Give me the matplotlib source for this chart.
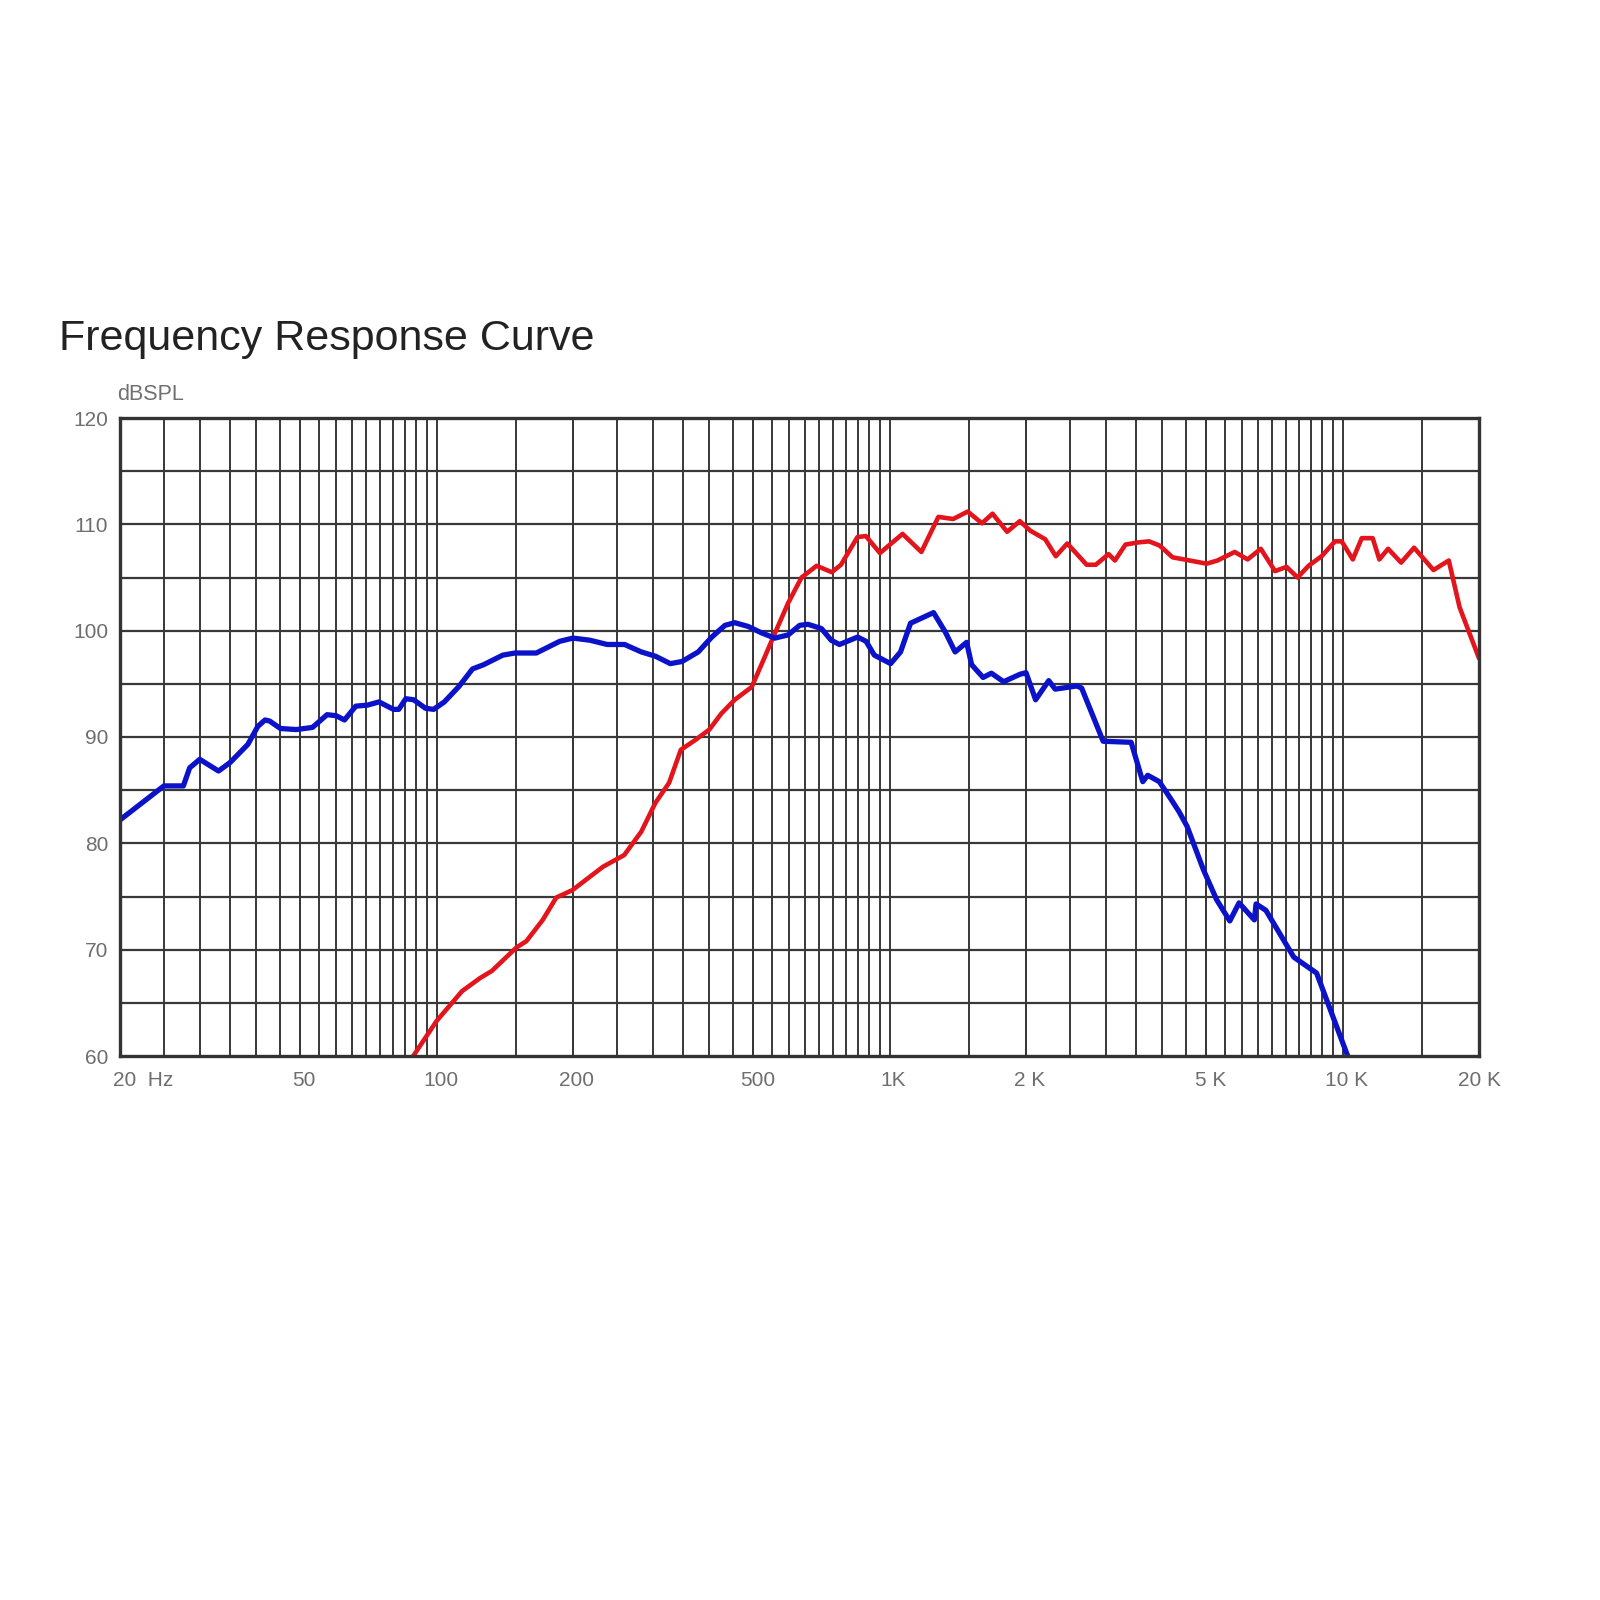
import numpy as np
import matplotlib
matplotlib.use("Agg")
import matplotlib.pyplot as plt
import matplotlib.transforms as mtransforms
from matplotlib import font_manager

# ---------------- data ----------------
blue_freq = [20, 25, 27.6, 28.5, 30, 33, 35, 38.3, 40.3, 41.8, 42.8, 45.2, 49, 53.2, 57.3, 60,
             62.6, 66.3, 70.4, 74.6, 80.3, 82.5, 85.5, 89, 94.5, 98.5, 104, 112, 120, 127, 140,
             149, 166, 187, 200, 218, 238, 260, 283, 304, 328, 348, 378, 405, 433, 455, 487,
             521, 558, 597, 633, 660, 707, 743, 775, 850, 887, 925, 1005, 1057, 1112, 1250,
             1326, 1395, 1479, 1517, 1608, 1677, 1785, 1940, 2000, 2100, 2245, 2320, 2589,
             2654, 2960, 3413, 3621, 3713, 3938, 4172, 4350, 4535, 4930, 5270, 5635, 5907, 6385,
             6440, 6770, 7800, 8760, 10260]
blue_db = [82.2, 85.4, 85.4, 87.1, 87.9, 86.8, 87.6, 89.3, 91.0, 91.6, 91.5, 90.8, 90.7, 90.9,
           92.1, 92.0, 91.6, 92.9, 93.0, 93.3, 92.6, 92.6, 93.6, 93.5, 92.7, 92.6, 93.3, 94.75,
           96.4, 96.8, 97.7, 97.9, 97.9, 99.0, 99.3, 99.1, 98.7, 98.7, 98.0, 97.6, 96.9, 97.1,
           98.0, 99.4, 100.5, 100.75, 100.4, 99.8, 99.3, 99.6, 100.5, 100.6, 100.2, 99.1, 98.7,
           99.4, 99.0, 97.7, 96.9, 98.0, 100.7, 101.7, 99.9, 98.0, 98.9, 96.8, 95.6, 96.0, 95.2,
           95.9, 96.05, 93.5, 95.3, 94.5, 94.8, 94.6, 89.6, 89.5, 85.8, 86.4, 85.8, 84.2, 83.0,
           81.6, 77.5, 74.7, 72.7, 74.4, 72.8, 74.3, 73.7, 69.3, 67.8, 60.0]

red_freq = [88.8, 100, 113.8, 124.9, 132.4, 150, 157.8, 171.5, 183.7, 199.4, 214, 233, 259.5,
            283, 304, 326, 346, 372, 400, 425, 455, 496, 526, 558, 597, 639, 690, 745, 781,
            849, 886, 952, 1068, 1175, 1281, 1381, 1487, 1599, 1687, 1817, 1938, 2045, 2205,
            2327, 2467, 2722, 2852, 3043, 3143, 3317, 3540, 3738, 3946, 4212, 5010, 5293,
            5777, 6170, 6596, 7092, 7520, 7954, 8409, 8987, 9620, 9950, 10530, 11020, 11650,
            12050, 12600, 13460, 14380, 15870, 17150, 18120, 20000]
red_db = [60.0, 63.3, 66.1, 67.35, 68.0, 70.2, 70.8, 72.8, 74.9, 75.6, 76.6, 77.8, 78.9, 81.1,
          83.8, 85.7, 88.8, 89.7, 90.7, 92.2, 93.5, 94.7, 97.2, 99.75, 102.6, 105.0, 106.1,
          105.5, 106.2, 108.8, 108.9, 107.3, 109.1, 107.4, 110.7, 110.5, 111.2, 110.1, 111.0,
          109.3, 110.3, 109.4, 108.6, 107.0, 108.2, 106.2, 106.2, 107.2, 106.6, 108.1, 108.3,
          108.4, 108.0, 106.9, 106.3, 106.6, 107.4, 106.7, 107.7, 105.6, 106.0, 105.0, 106.1,
          107.0, 108.4, 108.4, 106.7, 108.7, 108.7, 106.7, 107.7, 106.4, 107.8, 105.7, 106.6,
          102.2, 97.4]

x_tick_values = [20, 50, 100, 200, 500, 1000, 2000, 5000, 10000, 20000]
x_tick_labels = ["20  Hz", "50", "100", "200", "500", "1K", "2 K", "5 K", "10 K", "20 K"]
y_tick_values = [60, 70, 80, 90, 100, 110, 120]
y_tick_labels = ["60", "70", "80", "90", "100", "110", "120"]

grid_freqs = (list(range(25, 100, 5)) + list(range(150, 1000, 50)) +
              list(range(1500, 10000, 500)) + [15000])
grid_levels = list(range(65, 120, 5))

title_text = "Frequency Response Curve"
unit_text = "dBSPL"

# ---------------- fonts ----------------
avail = {f.name for f in font_manager.fontManager.ttflist}
narrow = [f for f in ["Liberation Sans Narrow", "Liberation Sans", "DejaVu Sans"] if f in avail]
wide = [f for f in ["Liberation Sans", "DejaVu Sans"] if f in avail]
has_narrow = "Liberation Sans Narrow" in avail
lab_size = 16.5 if has_narrow else 15.0
unit_size = 17.5 if has_narrow else 15.5

# ---------------- figure ----------------
fig = plt.figure(figsize=(16, 16), dpi=100)
fig.patch.set_facecolor("white")
ax = fig.add_axes([0.075, 0.34, 0.849375, 0.39875])
ax.set_xscale("log")
ax.set_xlim(20, 20000)
ax.set_ylim(60, 120)

grid_col = "#383838"
for f in grid_freqs:
    ax.axvline(f, color=grid_col, lw=1.4, zorder=1)
for f in x_tick_values[1:-1]:
    ax.axvline(f, color=grid_col, lw=1.4, zorder=1)
for lv in grid_levels:
    ax.axhline(lv, color=grid_col, lw=1.6, zorder=1)

ax.plot(red_freq, red_db, color="#e3141b", lw=3.3, solid_joinstyle="round",
        solid_capstyle="round", zorder=3, clip_on=True)
ax.plot(blue_freq, blue_db, color="#0b12c9", lw=3.8, solid_joinstyle="round",
        solid_capstyle="round", zorder=4, clip_on=True)

for s in ax.spines.values():
    s.set_color("#333333")
    s.set_linewidth(2.4)
    s.set_zorder(5)

ax.set_xticks(x_tick_values)
ax.set_xticklabels(x_tick_labels)
ax.xaxis.set_minor_locator(matplotlib.ticker.NullLocator())
ax.set_yticks(y_tick_values)
ax.set_yticklabels(y_tick_labels)
ax.tick_params(axis="both", length=0, labelsize=lab_size, labelcolor="#6e6e6e")
ax.tick_params(axis="x", pad=11)
ax.tick_params(axis="y", pad=8.5)
for lab in ax.get_xticklabels() + ax.get_yticklabels():
    lab.set_family(narrow)

xl = ax.get_xticklabels()
for i, lab in enumerate(xl):
    if i == 0:
        lab.set_ha("left")
        lab.set_transform(lab.get_transform() +
                          mtransforms.ScaledTranslation(-7 / 100, 0, fig.dpi_scale_trans))
    elif i < len(xl) - 1:
        lab.set_transform(lab.get_transform() +
                          mtransforms.ScaledTranslation(4 / 100, 0, fig.dpi_scale_trans))

fig.text(59 / 1600, 1 - 350 / 1600, title_text, fontsize=31, color="#222222",
         family=wide, ha="left", va="baseline")
fig.text(117 / 1600, 1 - 400 / 1600, unit_text, fontsize=unit_size, color="#707070",
         family=narrow, ha="left", va="baseline")

fig.savefig("out.png", dpi=100, facecolor="white")
